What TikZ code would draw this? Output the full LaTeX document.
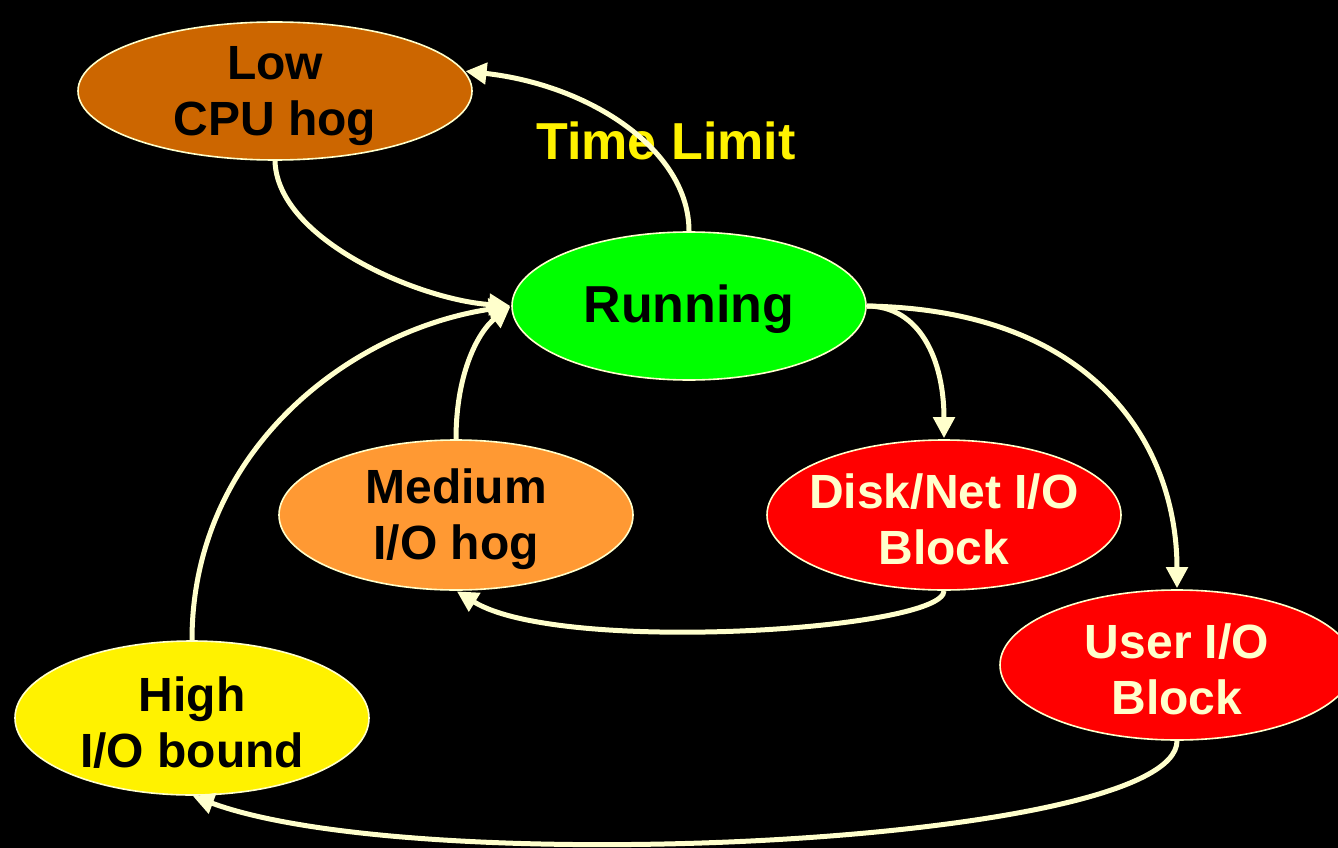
\documentclass[tikz,border=0pt]{standalone}
\usepackage{fontspec}
\setmainfont{Liberation Sans}
\usetikzlibrary{shapes.geometric,arrows.meta}
\definecolor{cream}{HTML}{FFFFCC}
\definecolor{lowc}{HTML}{CC6600}
\definecolor{medc}{HTML}{FF9933}
\tikzset{
  state/.style={ellipse, draw=cream, line width=1.6pt, inner xsep=0pt,
    inner ysep=-12pt,
    minimum width=354pt, minimum height=150pt, align=center,
    text height=100pt,
    font=\bfseries\fontsize{48}{56}\selectfont},
  arr/.style={draw=cream, line width=5pt,
    -{Triangle[length=21pt,width=21pt]}, shorten >=1pt},
}
\begin{document}
\begin{tikzpicture}[x=1pt,y=-1pt]
  \useasboundingbox (0,0) rectangle (1338,848);
  \fill[black] (0,0) rectangle (1338,848);
  \clip (0,0) rectangle (1338,848);

  % states
  \node[state, fill=lowc, minimum width=394pt, minimum height=138pt] (low) at (275,91) {Low\\CPU hog};
  \node[state, fill=green, minimum height=148pt, text height=45pt,
        font=\bfseries\fontsize{52}{60}\selectfont] (run) at (689,306) {Running};
  \node[state, fill=medc] (med) at (456,515) {Medium\\I/O hog};
  \node[state, fill=red, text=cream, inner xsep=-12pt] (disk) at (944,515) {Disk/Net I/O\\Block};
  \node[state, fill=red, text=cream] (user) at (1177,665) {User I/O\\Block};
  \node[state, fill=yellow, minimum height=154pt] (high) at (192,718) {High\\I/O bound};

  % label
  \node[text=yellow, font=\bfseries\fontsize{52}{60}\selectfont] (tl) at (666,141) {Time Limit};

  % transitions
  \draw[arr] (run.north) .. controls (689,150) and (590,85) .. (low.6);
  \draw[arr] (low.south) .. controls (277,240) and (420,300) .. (run.west);
  \draw[arr] (med.north) .. controls (456,370) and (480,330) .. (run.west);
  \draw[arr] (high.north) .. controls (192,450) and (350,330) .. (run.west);
  \draw[arr] (run.east) .. controls (920,306) and (944,360) .. (disk.north);
  \draw[arr] (run.east) .. controls (1100,310) and (1177,450) .. (user.north);
  \draw[arr] (disk.south) .. controls (944,630) and (560,655) .. (med.south);
  \draw[arr] (user.south) .. controls (1177,845) and (420,880) .. (high.south);
\end{tikzpicture}
\end{document}
